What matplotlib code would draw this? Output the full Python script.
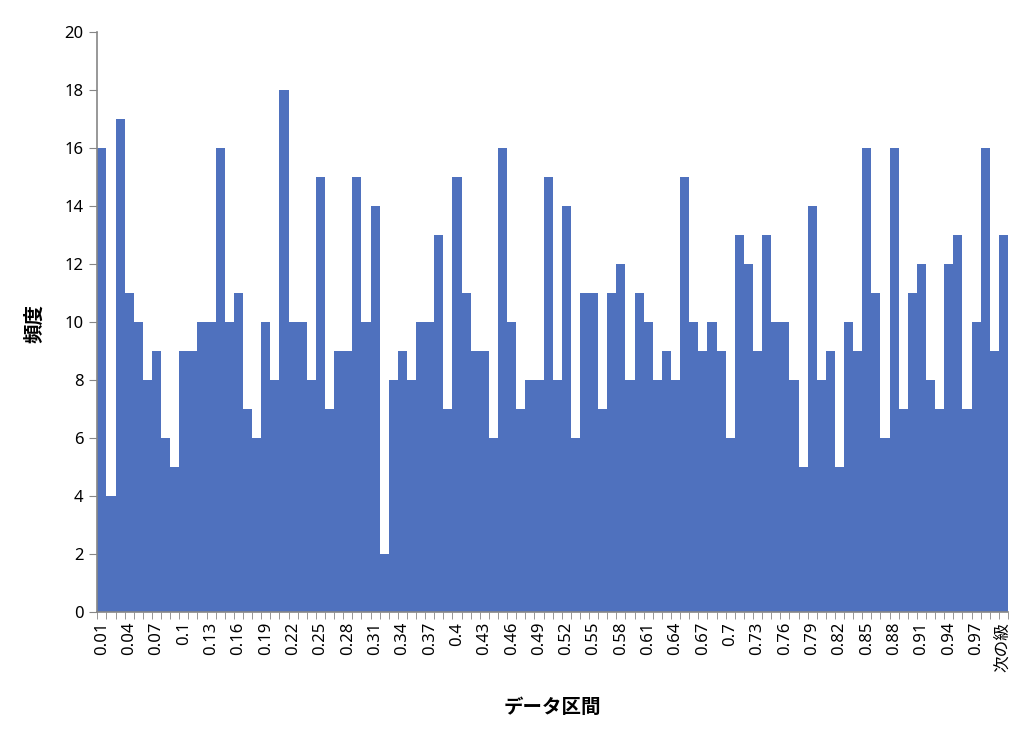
import matplotlib
matplotlib.use('Agg')
import matplotlib.pyplot as plt

plt.rcParams['font.family'] = ['Noto Sans', 'Noto Sans CJK JP', 'DejaVu Sans']

##data
bins = ['0.01', '0.02', '0.03', '0.04', '0.05', '0.06', '0.07', '0.08', '0.09', '0.1',
        '0.11', '0.12', '0.13', '0.14', '0.15', '0.16', '0.17', '0.18', '0.19', '0.2',
        '0.21', '0.22', '0.23', '0.24', '0.25', '0.26', '0.27', '0.28', '0.29', '0.3',
        '0.31', '0.32', '0.33', '0.34', '0.35', '0.36', '0.37', '0.38', '0.39', '0.4',
        '0.41', '0.42', '0.43', '0.44', '0.45', '0.46', '0.47', '0.48', '0.49', '0.5',
        '0.51', '0.52', '0.53', '0.54', '0.55', '0.56', '0.57', '0.58', '0.59', '0.6',
        '0.61', '0.62', '0.63', '0.64', '0.65', '0.66', '0.67', '0.68', '0.69', '0.7',
        '0.71', '0.72', '0.73', '0.74', '0.75', '0.76', '0.77', '0.78', '0.79', '0.8',
        '0.81', '0.82', '0.83', '0.84', '0.85', '0.86', '0.87', '0.88', '0.89', '0.9',
        '0.91', '0.92', '0.93', '0.94', '0.95', '0.96', '0.97', '0.98', '0.99', '次の級']
freq = [16, 4, 17, 11, 10, 8, 9, 6, 5, 9,
        9, 10, 10, 16, 10, 11, 7, 6, 10, 8,
        18, 10, 10, 8, 15, 7, 9, 9, 15, 10,
        14, 2, 8, 9, 8, 10, 10, 13, 7, 15,
        11, 9, 9, 6, 16, 10, 7, 8, 8, 15,
        8, 14, 6, 11, 11, 7, 11, 12, 8, 11,
        10, 8, 9, 8, 15, 10, 9, 10, 9, 6,
        13, 12, 9, 13, 10, 10, 8, 5, 14, 8,
        9, 5, 10, 9, 16, 11, 6, 16, 7, 11,
        12, 8, 7, 12, 13, 7, 10, 16, 9, 13]
yticks = [0, 2, 4, 6, 8, 10, 12, 14, 16, 18, 20]

fig = plt.figure(figsize=(10.32, 7.46), dpi=100)
ax = fig.add_axes([0.0943, 0.1796, 0.8824, 0.7775])

x = list(range(len(freq)))
ax.bar(x, freq, width=1.0, color='#4F71BE', edgecolor='none')

ax.set_xlim(-0.5, len(freq) - 0.5)
ax.set_ylim(0, 20)
ax.set_yticks(yticks)
ax.tick_params(axis='y', labelsize=12, length=6, color='#868686', direction='out', pad=4)

shown = x[::3]
ax.set_xticks(shown)
ax.set_xticklabels([bins[i] for i in shown], rotation=90, fontsize=12)
ax.set_xticks([i - 0.5 for i in range(len(freq) + 1)], minor=True)
ax.tick_params(axis='x', which='major', length=0, pad=7)
ax.tick_params(axis='x', which='minor', length=5, color='#868686', direction='out')

for s in ['top', 'right']:
    ax.spines[s].set_visible(False)
for s in ['left', 'bottom']:
    ax.spines[s].set_color('#868686')
    ax.spines[s].set_linewidth(1.2)

fig.text(0.034, 0.567, '頻度', rotation=90, ha='center', va='center', fontsize=14, fontweight='bold')
fig.text(0.535, 0.051, 'データ区間', ha='center', va='center', fontsize=14, fontweight='bold')

plt.savefig('out.png', dpi=100)
